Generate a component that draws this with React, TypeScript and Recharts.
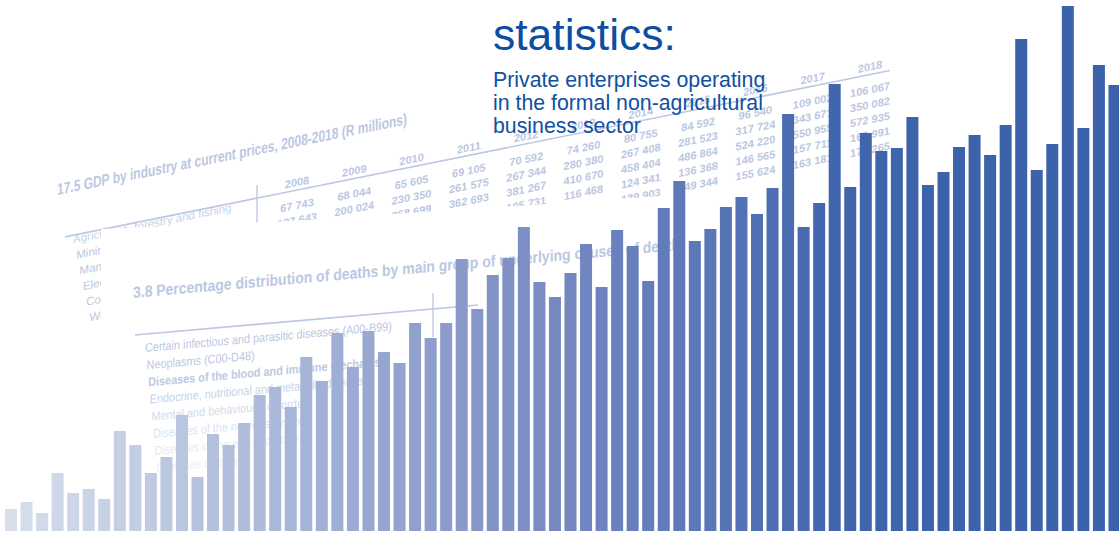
import React from 'react';
import { BarChart, Bar, XAxis, YAxis, Cell } from 'recharts';

// ---------- chart data ----------
const barLabels: string[] = Array.from({ length: 72 }, (_, i) => `P${i + 1}`);
const barValues: number[] = [
  22, 29, 18, 58, 38, 42, 32, 100, 86, 58,
  74, 116, 54, 97, 86, 108, 136, 144, 124, 174,
  150, 198, 164, 200, 179, 168, 208, 193, 208, 272,
  222, 256, 273, 304, 249, 234, 258, 287, 244, 301,
  285, 250, 323, 350, 290, 302, 324, 334, 317, 343,
  417, 304, 328, 447, 344, 398, 380, 383, 414, 346,
  359, 384, 396, 376, 406, 492, 361, 387, 525, 403,
  466, 446,
];

// ---------- decorative background texts ----------
const headline = 'statistics:';
const subtitleLines = [
  'Private enterprises operating',
  'in the formal non-agricultural',
  'business sector',
];

const gdpTitle = '17.5 GDP by industry at current prices, 2008-2018 (R millions)';
const gdpYears = ['2008', '2009', '2010', '2011', '2012', '2013', '2014', '2015', '2016', '2017', '2018'];
const gdpColumns: string[][] = [
  ['67 743', '187 643'],
  ['68 044', '200 024'],
  ['65 605', '230 350', '358 699'],
  ['69 105', '261 575', '362 693'],
  ['70 592', '267 344', '381 267', '105 731'],
  ['74 260', '280 380', '410 670', '116 468'],
  ['80 755', '267 408', '458 404', '124 341', '139 903'],
  ['84 592', '281 523', '486 864', '136 368', '149 344'],
  ['96 540', '317 724', '524 220', '146 565', '155 624'],
  ['109 002', '343 671', '550 955', '157 711', '163 181'],
  ['106 067', '350 082', '572 935', '165 991', '178 265'],
];
const gdpRowLabels = [
  'Agriculture, forestry and fishing',
  'Mining and quarrying',
  'Manufacturing',
  'Electricity, gas and water',
  'Construction',
  'Wholesale and retail trade',
];

const deathsTitle = '3.8 Percentage distribution of deaths by main group of underlying causes of death';
const deathsRowLabels = [
  'Certain infectious and parasitic diseases (A00-B99)',
  'Neoplasms (C00-D48)',
  'Diseases of the blood and immune mechanism',
  'Endocrine, nutritional and metabolic diseases',
  'Mental and behavioural disorders',
  'Diseases of the nervous system',
  'Diseases of the eye and adnexa',
  'Diseases of the ear',
];

// ---------- styles ----------
const colorStops: [number, string][] = [
  [0, '#d6dfeb'],
  [17, '#aab8d9'],
  [35, '#7789c2'],
  [53, '#4166ae'],
  [60, '#3b62aa'],
  [71, '#3b62aa'],
];

function hexToRgb(h: string) {
  return [parseInt(h.slice(1, 3), 16), parseInt(h.slice(3, 5), 16), parseInt(h.slice(5, 7), 16)];
}
function barColor(i: number) {
  for (let k = 0; k < colorStops.length - 1; k++) {
    const [a, ca] = colorStops[k];
    const [b, cb] = colorStops[k + 1];
    if (i >= a && i <= b) {
      const t = (i - a) / (b - a);
      const A = hexToRgb(ca);
      const B = hexToRgb(cb);
      const c = A.map((v, j) => Math.round(v + (B[j] - v) * t));
      return `rgb(${c[0]},${c[1]},${c[2]})`;
    }
  }
  return colorStops[colorStops.length - 1][1];
}

const FONT = '"Liberation Sans", Arial, Helvetica, sans-serif';
const PALE = '#bcc7e2';
const labelOpacity = [1, 1, 0.95, 0.8, 0.65, 0.5, 0.38, 0.28];

export default function App() {
  const data = barLabels.map((c, i) => ({ cat: c, value: barValues[i] }));
  return (
    <div
      style={{
        position: 'absolute',
        left: 0,
        top: 0,
        width: 1119,
        height: 533,
        overflow: 'hidden',
        background: '#ffffff',
        fontFamily: FONT,
      }}
    >
      {/* background tables */}
      <svg width={1119} height={533} style={{ position: 'absolute', left: 0, top: 0 }} fontFamily={FONT}>
        <g transform="skewY(-11.4)" fill={PALE}>
          <text x={57} y={206.5} fontSize={16} fontWeight={700} textLength={350} lengthAdjust="spacingAndGlyphs">
            {gdpTitle}
          </text>
          {gdpYears.map((y, i) => (
            <text key={y} x={297 + 57.3 * i} y={246} textAnchor="middle" fontSize={11} fontWeight={700}>
              {y}
            </text>
          ))}
          <line x1={65} y1={250} x2={890} y2={250} stroke={PALE} strokeWidth={1.6} />
          <line x1={257} y1={237} x2={257} y2={285} stroke={PALE} strokeWidth={1.4} />
          {gdpColumns.map((col, i) =>
            col.map((v, r) => (
              <text key={`${i}-${r}`} x={297 + 57.3 * i} y={269 + 15 * r} textAnchor="middle" fontSize={11} fontWeight={600}>
                {v}
              </text>
            ))
          )}
          {gdpRowLabels.map((l, k) => (
            <text key={l} x={73 + 3.3 * k} y={258 + 16.3 * k} fontSize={11.5} opacity={k === 0 ? 0.8 : 1}>
              {l}
            </text>
          ))}
        </g>
        <polygon points="101,229 290,221 530,205 1119,164 1119,533 101,533" fill="#ffffff" />
        <g transform="skewY(-5)" fill={PALE}>
          <text x={133} y={309.6} fontSize={16} fontWeight={700} textLength={547} lengthAdjust="spacingAndGlyphs">
            {deathsTitle}
          </text>
          <line x1={135} y1={346.8} x2={478} y2={346.8} stroke={PALE} strokeWidth={1.6} />
          <line x1={433} y1={331} x2={433} y2={375} stroke={PALE} strokeWidth={1.4} />
          {deathsRowLabels.map((l, k) => (
            <g key={l} transform={`translate(${145 + 1.6 * k},0) scale(0.87,1)`}>
              <text
                x={0}
                y={364.7 + 17.3 * k}
                fontSize={12.5}
                fontWeight={k === 2 ? 600 : 400}
                opacity={labelOpacity[k]}
              >
                {l}
              </text>
            </g>
          ))}
        </g>
      </svg>

      {/* bars */}
      <div style={{ position: 'absolute', left: 0, top: 0 }}>
        <BarChart width={1122} height={533} data={data} margin={{ top: 0, right: 0, left: 3, bottom: 2 }}>
          <XAxis dataKey="cat" hide />
          <YAxis hide type="number" domain={[0, 531]} />
          <Bar dataKey="value" barSize={12} isAnimationActive={false}>
            {data.map((d, i) => (
              <Cell key={d.cat} fill={barColor(i)} />
            ))}
          </Bar>
        </BarChart>
      </div>

      {/* headline */}
      <svg width={1119} height={533} style={{ position: 'absolute', left: 0, top: 0, pointerEvents: 'none' }} fontFamily={FONT}>
        <text x={493} y={50} fontSize={44.5} fill="#0c4ea1">
          {headline}
        </text>
        {subtitleLines.map((l, k) => (
          <text key={l} x={493} y={87.3 + 23 * k} fontSize={21.3} fill="#0f50a2">
            {l}
          </text>
        ))}
      </svg>
    </div>
  );
}
